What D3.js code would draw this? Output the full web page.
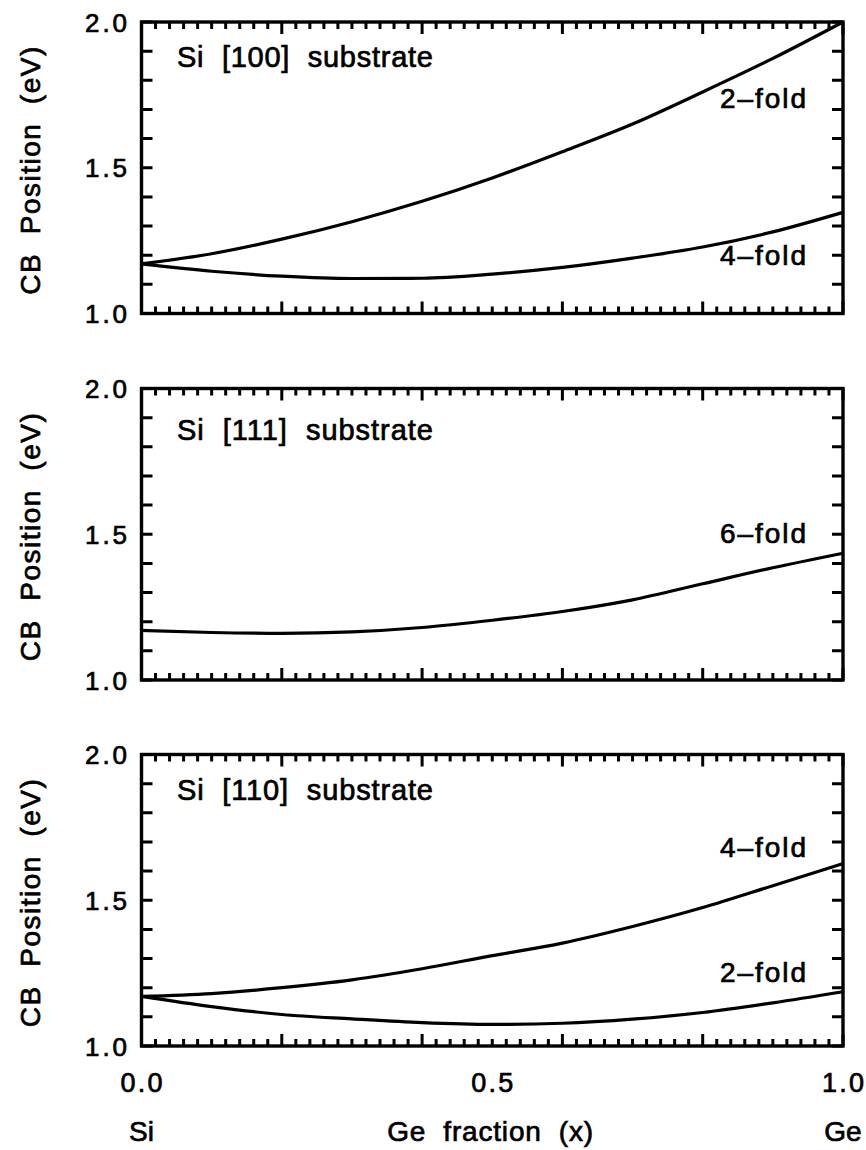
<!DOCTYPE html>
<html>
<head>
<meta charset="utf-8">
<script src="https://cdn.jsdelivr.net/npm/d3@7"></script>
<style>
  html, body { margin: 0; padding: 0; background: #fff; }
  svg text.lbl { font-family: "Liberation Sans", Arial, sans-serif; fill: #000; stroke: #000; stroke-width: 0.7px; white-space: pre; }
</style>
</head>
<body>
<svg id="chart" width="866" height="1150"></svg>
<script>
// ---- Data ----
const geFraction = [0, 0.1, 0.2, 0.3, 0.4, 0.5, 0.6, 0.7, 0.8, 0.9, 1.0];

// Si [100] substrate
const si100_2fold = [1.17, 1.205, 1.255, 1.315, 1.385, 1.465, 1.555, 1.65, 1.76, 1.875, 2.0];
const si100_4fold = [1.17, 1.145, 1.128, 1.12, 1.121, 1.135, 1.158, 1.19, 1.228, 1.28, 1.347];

// Si [111] substrate
const si111_6fold = [1.17, 1.163, 1.16, 1.165, 1.18, 1.205, 1.235, 1.275, 1.33, 1.385, 1.435];

// Si [110] substrate
const si110_4fold = [1.17, 1.18, 1.20, 1.227, 1.265, 1.31, 1.353, 1.41, 1.475, 1.55, 1.626];
const si110_2fold = [1.17, 1.135, 1.108, 1.093, 1.08, 1.074, 1.078, 1.092, 1.115, 1.148, 1.186];

const panelTitles = ["Si  [100]  substrate", "Si  [111]  substrate", "Si  [110]  substrate"];
const seriesLabels = [["2\u2013fold", "4\u2013fold"], ["6\u2013fold"], ["4\u2013fold", "2\u2013fold"]];
const yTickLabels = ["1.0", "1.5", "2.0"];
const xTickLabels = ["0.0", "0.5", "1.0"];
const yAxisTitle = "CB  Position  (eV)";
const xAxisTitle = "Ge  fraction  (x)";
const xEndLabels = ["Si", "Ge"];

// ---- Layout ----
const svg = d3.select("#chart");
const X0 = 141.5, X1 = 843;
const panelTops = [22, 388.5, 754.5];
const PH = 291.5;

const x = d3.scaleLinear().domain([0, 1]).range([X0, X1]);

const panels = [
  { series: [si100_2fold, si100_4fold], labelY: [1.705, 1.166] },
  { series: [si111_6fold], labelY: [1.47] },
  { series: [si110_4fold, si110_2fold], labelY: [1.65, 1.22] }
];

const xMinorVals = d3.range(0, 51).map(k => k / 50).filter(v => Math.round(v * 50) % 10 !== 0);
const xMajorVals = d3.range(0, 6).map(k => k / 5);
const yTickVals = d3.range(0, 11).map(k => 1 + k / 10);

panels.forEach((p, i) => {
  const top = panelTops[i];
  const y = d3.scaleLinear().domain([1, 2]).range([top + PH, top]);
  const g = svg.append("g");

  // frame
  g.append("rect").attr("x", X0).attr("y", top).attr("width", X1 - X0).attr("height", PH)
    .attr("fill", "none").attr("stroke", "#000").attr("stroke-width", 3.4);

  // tick marks: one path, built from the scales, drawn over the frame
  let d = "";
  xMinorVals.forEach(v => {
    d += `M${x(v)},${y(1)}V${y(1) - 7}M${x(v)},${y(2)}V${y(2) + 7}`;
  });
  xMajorVals.forEach(v => {
    d += `M${x(v)},${y(1)}V${y(1) - 12}M${x(v)},${y(2)}V${y(2) + 12}`;
  });
  yTickVals.forEach(v => {
    d += `M${X0},${y(v)}H${X0 + 11}M${X1},${y(v)}H${X1 - 11}`;
  });
  g.append("path").attr("class", "ticks").attr("d", d)
    .style("fill", "none").style("stroke", "#000").style("stroke-width", "3px");

  // y tick labels
  yTickLabels.forEach(t => {
    g.append("text").attr("class", "lbl").attr("x", 127).attr("y", y(+t) + 9.5)
      .attr("text-anchor", "end").attr("font-size", 26)
      .attr("textLength", 42).attr("lengthAdjust", "spacing")
      .text(t);
  });

  // y axis title
  g.append("text").attr("class", "lbl")
    .attr("transform", `translate(40,${top + PH / 2 + 3}) rotate(-90)`)
    .attr("text-anchor", "middle").attr("font-size", 28)
    .attr("textLength", 248).attr("lengthAdjust", "spacing")
    .text(yAxisTitle);

  // panel title
  g.append("text").attr("class", "lbl").attr("x", 177).attr("y", [67, 440, 800][i])
    .attr("font-size", 29)
    .attr("textLength", 256).attr("lengthAdjust", "spacing")
    .text(panelTitles[i]);

  // curves
  const line = d3.line()
    .x((dd, k) => x(geFraction[k]))
    .y(dd => y(dd))
    .curve(d3.curveMonotoneX);
  p.series.forEach(s => {
    g.append("path").datum(s).attr("d", line)
      .attr("fill", "none").attr("stroke", "#000").attr("stroke-width", 3.2);
  });

  // series labels
  p.labelY.forEach((ly, k) => {
    g.append("text").attr("class", "lbl").attr("x", 806).attr("y", y(ly))
      .attr("text-anchor", "end").attr("font-size", 28)
      .attr("textLength", 86).attr("lengthAdjust", "spacing")
      .text(seriesLabels[i][k]);
  });

  // bottom panel: x tick labels and axis title
  if (i === 2) {
    xTickLabels.forEach(t => {
      g.append("text").attr("class", "lbl").attr("x", x(+t)).attr("y", 1092)
        .attr("text-anchor", "middle").attr("font-size", 27)
        .attr("textLength", 42).attr("lengthAdjust", "spacing")
        .text(t);
    });
    g.append("text").attr("class", "lbl").attr("x", x(0)).attr("y", 1141)
      .attr("text-anchor", "middle").attr("font-size", 28).text(xEndLabels[0]);
    g.append("text").attr("class", "lbl").attr("x", x(1)).attr("y", 1141)
      .attr("text-anchor", "middle").attr("font-size", 28).text(xEndLabels[1]);
    g.append("text").attr("class", "lbl").attr("x", x(0.497)).attr("y", 1141)
      .attr("text-anchor", "middle").attr("font-size", 28)
      .attr("textLength", 206).attr("lengthAdjust", "spacing")
      .text(xAxisTitle);
  }
});
</script>
</body>
</html>
